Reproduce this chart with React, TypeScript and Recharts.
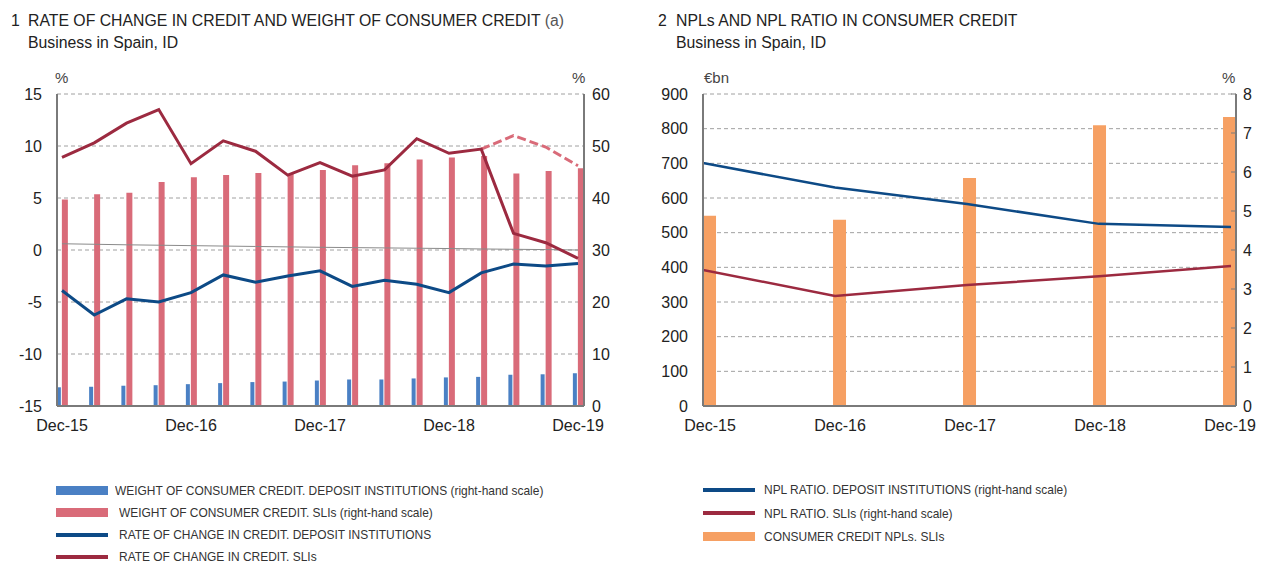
import { ComposedChart, Bar, Line, XAxis, YAxis, CartesianGrid } from 'recharts';

// quarterly, Dec-15 .. Dec-19
const quarters = [
  'Dec-15', 'Mar-16', 'Jun-16', 'Sep-16', 'Dec-16', 'Mar-17', 'Jun-17', 'Sep-17', 'Dec-17',
  'Mar-18', 'Jun-18', 'Sep-18', 'Dec-18', 'Mar-19', 'Jun-19', 'Sep-19', 'Dec-19',
];
const weightDI = [3.6, 3.7, 3.9, 4.0, 4.2, 4.4, 4.6, 4.7, 4.9, 5.1, 5.1, 5.3, 5.5, 5.6, 6.0, 6.1, 6.3];
const weightSLI = [39.7, 40.7, 41.0, 43.1, 44.0, 44.4, 44.8, 44.6, 45.4, 46.3, 46.7, 47.4, 47.8, 48.1, 44.7, 45.2, 45.7];
const rateDI = [-3.9, -6.25, -4.7, -5.0, -4.1, -2.4, -3.1, -2.5, -2.0, -3.5, -2.9, -3.3, -4.1, -2.2, -1.35, -1.55, -1.3];
const rateSLI = [8.9, 10.3, 12.2, 13.5, 8.3, 10.5, 9.5, 7.2, 8.4, 7.1, 7.7, 10.7, 9.3, 9.7, 1.6, 0.7, -0.8];
const rateSLIalt = [null, null, null, null, null, null, null, null, null, null, null, null, null, 9.7, 11.0, 9.9, 8.1];
const thinGrey = [0.6, 0.55, 0.5, 0.46, 0.42, 0.38, 0.34, 0.3, 0.26, 0.23, 0.2, 0.17, 0.14, 0.1, 0.07, 0.04, 0.0];
const leftTicks = [-15, -10, -5, 0, 5, 10, 15];
const leftRightTicks = [0, 10, 20, 30, 40, 50, 60];
const leftXTicks = [0, 4, 8, 12, 16];

// annual, Dec-15 .. Dec-19
const years = ['Dec-15', 'Dec-16', 'Dec-17', 'Dec-18', 'Dec-19'];
const nplsSLI = [549, 537, 658, 810, 834];
const nplRatioDI = [6.23, 5.6, 5.18, 4.67, 4.59];
const nplRatioSLI = [3.49, 2.82, 3.1, 3.33, 3.59];
const rightTicks = [0, 100, 200, 300, 400, 500, 600, 700, 800, 900];
const rightRightTicks = [0, 1, 2, 3, 4, 5, 6, 7, 8];

const leftData = quarters.map((q, i) => ({
  i, q,
  weightDI: weightDI[i],
  weightSLI: weightSLI[i],
  rateDI: rateDI[i],
  rateSLI: rateSLI[i],
  rateSLIalt: rateSLIalt[i],
  thinGrey: thinGrey[i],
}));

const rightData = years.map((y, i) => ({
  i, y,
  npls: nplsSLI[i],
  ratioDI: nplRatioDI[i],
  ratioSLI: nplRatioSLI[i],
}));

const C = {
  blueBar: '#4a80c4',
  pinkBar: '#d96b79',
  navy: '#0d4a86',
  wine: '#9c2a40',
  orange: '#f6a063',
  axis: '#7a7a7a',
  grid: '#a0a0a0',
  text: '#222',
};

const FONT = '"Liberation Sans", Arial, sans-serif';
const tickStyle = { fontSize: 16, fill: C.text, fontFamily: FONT };

type LegendItem = { label: string; color: string; kind: 'bar' | 'line'; gap: number };

function Legend({ left, top, rowH, items }: { left: number; top: number; rowH: number; items: LegendItem[] }) {
  return (
    <div style={{ position: 'absolute', left, top }}>
      {items.map((it) => (
        <div key={it.label} style={{ display: 'flex', alignItems: 'center', height: rowH }}>
          <div style={{ width: 52, height: it.kind === 'bar' ? 9 : 4, background: it.color, flex: 'none' }} />
          <span
            style={{
              marginLeft: it.gap, fontFamily: FONT, fontSize: 13.5, color: '#333', whiteSpace: 'nowrap',
              display: 'inline-block', transform: 'scaleX(0.885)', transformOrigin: 'left center',
            }}
          >
            {it.label}
          </span>
        </div>
      ))}
    </div>
  );
}

function Note({ left, top, children, size = 15, color = C.text }: { left: number; top: number; children: any; size?: number; color?: string }) {
  return (
    <div style={{ position: 'absolute', left, top, fontFamily: FONT, fontSize: size, lineHeight: 1, color, whiteSpace: 'nowrap' }}>
      {children}
    </div>
  );
}

export default function App() {
  return (
    <div style={{ position: 'absolute', left: 0, top: 0, width: 1261, height: 562, overflow: 'hidden', background: '#fff' }}>
      <Note left={11} top={13} size={15.8}>1</Note>
      <Note left={28} top={13} size={15.8}>RATE OF CHANGE IN CREDIT AND WEIGHT OF CONSUMER CREDIT <span style={{ color: '#555' }}>(a)</span></Note>
      <Note left={28} top={34.5} size={15.8}>Business in Spain, ID</Note>
      <Note left={658} top={13} size={15.8}>2</Note>
      <Note left={676} top={13} size={15.8}>NPLs AND NPL RATIO IN CONSUMER CREDIT</Note>
      <Note left={676} top={34.5} size={15.8}>Business in Spain, ID</Note>

      <Note left={55} top={70} color="#444">%</Note>
      <Note left={572} top={70} color="#444">%</Note>
      <Note left={704} top={70} color="#444">€bn</Note>
      <Note left={1222} top={70} color="#444">%</Note>

      <div style={{ position: 'absolute', left: 0, top: 0 }}>
        <ComposedChart width={620} height={440} data={leftData} margin={{ top: 94, right: 0, left: 0, bottom: 0 }} barGap={1}>
          <CartesianGrid yAxisId="l" vertical={false} stroke={C.grid} strokeDasharray="4 3" />
          <XAxis
            dataKey="i" type="number" domain={[-0.155, 16.186]} ticks={leftXTicks} interval={0}
            tickFormatter={(v: number) => quarters[v]} height={34}
            axisLine={{ stroke: C.axis, strokeWidth: 2 }} tickLine={false} tickSize={6} tickMargin={8}
            tick={tickStyle} allowDataOverflow
          />
          <YAxis
            yAxisId="l" domain={[-15, 15]} ticks={leftTicks} width={57}
            axisLine={{ stroke: C.axis, strokeWidth: 2 }} tickLine={false} tickSize={6} tickMargin={9}
            tick={tickStyle} allowDataOverflow
          />
          <YAxis
            yAxisId="r" orientation="right" domain={[0, 60]} ticks={leftRightTicks} width={36}
            axisLine={{ stroke: C.axis, strokeWidth: 2 }} tickLine={false} tickSize={6} tickMargin={2}
            tick={{ ...tickStyle, textAnchor: 'start' }} allowDataOverflow
          />
          <Line yAxisId="l" dataKey="thinGrey" stroke="#8a8a8a" strokeWidth={1} dot={false} isAnimationActive={false} />
          <Bar yAxisId="r" dataKey="weightDI" fill={C.blueBar} barSize={4} isAnimationActive={false} />
          <Bar yAxisId="r" dataKey="weightSLI" fill={C.pinkBar} barSize={6} isAnimationActive={false} />
          <Line yAxisId="l" dataKey="rateSLIalt" stroke={C.pinkBar} strokeWidth={3} strokeDasharray="9 4" dot={false} isAnimationActive={false} />
          <Line yAxisId="l" dataKey="rateDI" stroke={C.navy} strokeWidth={3} dot={false} isAnimationActive={false} />
          <Line yAxisId="l" dataKey="rateSLI" stroke={C.wine} strokeWidth={3} dot={false} isAnimationActive={false} />
        </ComposedChart>
      </div>

      <div style={{ position: 'absolute', left: 640, top: 0 }}>
        <ComposedChart width={621} height={440} data={rightData} margin={{ top: 94, right: 0, left: 0, bottom: 0 }}>
          <CartesianGrid yAxisId="l" xAxisId="b" vertical={false} stroke={C.grid} strokeDasharray="4 3" />
          <XAxis
            xAxisId="b" dataKey="i" type="number" domain={[-0.054, 4.046]} ticks={[0, 1, 2, 3, 4]} interval={0}
            tickFormatter={(v: number) => years[v]} height={34}
            axisLine={{ stroke: C.axis, strokeWidth: 2 }} tickLine={false} tickSize={6} tickMargin={8}
            tick={tickStyle} allowDataOverflow
          />
          <XAxis xAxisId="p" dataKey="i" type="number" domain={[0, 4.038]} hide allowDataOverflow />
          <YAxis
            yAxisId="l" domain={[0, 900]} ticks={rightTicks} width={63}
            axisLine={{ stroke: C.axis, strokeWidth: 2 }} tickLine={false} tickSize={6} tickMargin={9}
            tick={tickStyle}
          />
          <YAxis
            yAxisId="r" orientation="right" domain={[0, 8]} ticks={rightRightTicks} width={25}
            axisLine={{ stroke: C.axis, strokeWidth: 2 }} tickLine={{ stroke: C.axis }} tickSize={-5} tickMargin={12}
            tick={{ ...tickStyle, textAnchor: 'start' }}
          />
          <Bar xAxisId="b" yAxisId="l" dataKey="npls" fill={C.orange} barSize={13} isAnimationActive={false} />
          <Line xAxisId="p" yAxisId="r" dataKey="ratioSLI" stroke={C.wine} strokeWidth={2.5} dot={false} isAnimationActive={false} />
          <Line xAxisId="p" yAxisId="r" dataKey="ratioDI" stroke={C.navy} strokeWidth={2.5} dot={false} isAnimationActive={false} />
        </ComposedChart>
      </div>

      <Legend
        left={56} top={479.5} rowH={22}
        items={[
          { label: 'WEIGHT OF CONSUMER CREDIT. DEPOSIT INSTITUTIONS (right-hand scale)', color: C.blueBar, kind: 'bar', gap: 7 },
          { label: 'WEIGHT OF CONSUMER CREDIT. SLIs (right-hand scale)', color: C.pinkBar, kind: 'bar', gap: 11 },
          { label: 'RATE OF CHANGE IN CREDIT. DEPOSIT INSTITUTIONS', color: C.navy, kind: 'line', gap: 11 },
          { label: 'RATE OF CHANGE IN CREDIT. SLIs', color: C.wine, kind: 'line', gap: 11 },
        ]}
      />
      <Legend
        left={703} top={478} rowH={23.5}
        items={[
          { label: 'NPL RATIO. DEPOSIT INSTITUTIONS (right-hand scale)', color: C.navy, kind: 'line', gap: 9 },
          { label: 'NPL RATIO. SLIs (right-hand scale)', color: C.wine, kind: 'line', gap: 9 },
          { label: 'CONSUMER CREDIT NPLs. SLIs', color: C.orange, kind: 'bar', gap: 9 },
        ]}
      />
    </div>
  );
}
